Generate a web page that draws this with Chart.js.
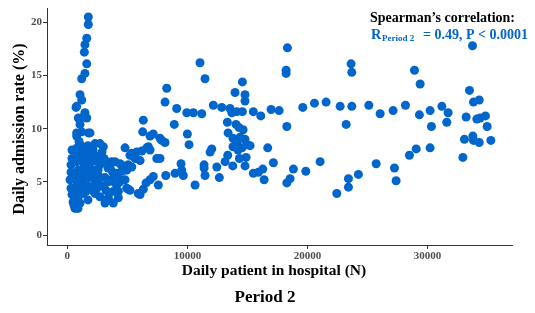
<!DOCTYPE html>
<html>
<head>
<meta charset="utf-8">
<script src="https://cdn.jsdelivr.net/npm/chart.js@4"></script>
<style>
  html, body { margin: 0; padding: 0; background: #fff; }
  canvas { display: block; }
</style>
</head>
<body>
<canvas id="myChart" width="535" height="313"></canvas>
<script>
// daily patients in hospital (N) for each day of period 2
var patientsN = [
    1750, 1750, 1620, 1470, 1420, 1620, 1470, 1200, 1060, 1200, 780, 730, 1470, 920, 1330, 1620, 1060, 1200, 780, 1750, 1890, 780, 980, 1060,
    2310, 2720, 3000, 390, 390, 310, 310, 230, 310, 390, 480, 640, 560, 810, 890, 810, 890, 730, 810, 730, 890,
    1230, 1310, 1230, 1390, 1230, 1310, 1140, 1310, 1060, 1720, 1640, 1810, 1720, 1640, 1810, 1720, 1560, 1720,
    2140, 2220, 2060, 2220, 2140, 2310, 2060, 2470, 2560, 2640, 2470, 2890, 3060, 2720, 3140, 2970, 3390, 3220, 890,
    2580, 3280, 3560, 3970, 4390, 4810, 3780, 4120, 4530, 4950, 2580, 3420, 3970, 4390, 4810, 5220, 5500,
    2310, 2720, 3280, 3830, 4250, 5080, 3420, 4250, 3830, 3140, 5910, 6060, 6330, 6560, 6890, 7160, 7450, 7580,
    8200, 8970, 9470, 9530, 9660, 10640, 6330, 6280, 6890, 7160, 7720, 7860, 8140, 6750, 6890, 4810, 5370, 5780,
    6200, 6610, 5640, 6060, 5080, 5370, 3700, 4670, 4120, 4530, 4950, 5220, 4120, 3700, 7720, 8140, 8280, 9110,
    9950, 10500, 11200, 8910, 10000, 10140,
    11050, 11470, 12160, 12860, 13550, 13700, 14110, 14580, 15490, 16110, 16970, 17640, 14580, 13970, 14800, 14800,
    18330, 18220, 18220, 13330, 13390, 13800, 14300, 14640, 14390, 14800, 14140, 13800, 14970, 15220, 14220, 14550,
    14050, 16690, 18280, 12030, 11890, 13360, 13140, 14330, 14890, 14800, 13780, 17160, 11390, 11390, 12450, 11470,
    12660, 15490, 15910, 16280, 16390, 18830, 18550, 18280, 19860,
    21050, 22440, 23410, 23410, 24240, 25720, 27240, 27380, 28490, 29050, 30210, 32940, 33070, 33770, 33820, 34300,
    35270, 33740, 23630, 23690, 28910, 29380, 33490, 33820, 34300, 19610, 20580, 21550, 22720, 23690, 25110, 26050,
    27130, 28160, 29320, 30210, 31190, 31710, 31600, 30320, 33210, 34100, 34380, 34820, 34960, 23220
];
// daily admission rate (%) for the same days
var admissionRate = [
    20.5, 19.8, 18.5, 17.9, 17.2, 16.1, 15.2, 14.7, 13.2, 12.7, 12.1, 12.0, 11.5, 11.0, 11.1, 11.0, 10.4, 9.7, 9.6, 9.6, 9.6, 9.3, 8.8, 8.5,
    8.6, 8.6, 8.3, 8.0, 7.2, 6.6, 5.9, 5.2, 4.4, 3.8, 3.1, 2.5, 2.8, 8.2, 7.5, 6.9, 6.1, 5.5, 4.8, 4.1, 3.5,
    8.3, 7.7, 7.1, 6.5, 5.8, 5.2, 4.5, 3.9, 3.0, 8.4, 7.8, 7.2, 6.6, 5.9, 5.4, 4.6, 4.1, 3.3,
    8.0, 7.4, 6.9, 6.1, 5.5, 4.9, 4.2, 6.9, 6.1, 5.5, 4.4, 7.8, 7.2, 6.6, 5.4, 4.6, 6.3, 4.2, 2.5,
    7.4, 6.9, 6.4, 6.9, 6.7, 6.5, 5.9, 5.8, 6.0, 6.1, 4.9, 5.0, 4.9, 5.0, 5.2, 7.5, 7.4,
    3.9, 3.6, 3.3, 4.1, 4.1, 4.3, 3.5, 3.5, 3.0, 3.0, 3.9, 3.8, 4.3, 4.9, 5.2, 5.5, 7.2, 4.7,
    5.6, 5.8, 6.7, 6.1, 5.6, 4.7, 10.8, 9.7, 9.3, 9.5, 9.1, 8.9, 8.7, 8.3, 8.0, 8.2, 7.7, 7.8,
    7.9, 8.2, 7.2, 7.0, 6.6, 6.4, 6.9, 6.1, 5.6, 5.2, 4.4, 4.2, 4.7, 5.2, 7.2, 12.5, 13.8, 11.9,
    11.5, 11.5, 11.4, 10.4, 9.5, 8.5,
    16.2, 14.7, 12.2, 12.0, 11.9, 11.5, 11.6, 11.6, 11.6, 11.2, 11.8, 11.7, 14.4, 13.4, 13.2, 12.6,
    17.6, 15.5, 15.2, 10.6, 9.6, 9.1, 10.1, 9.9, 9.2, 9.0, 8.7, 8.3, 8.5, 8.4, 8.0, 8.2,
    10.4, 8.2, 10.2, 8.1, 7.8, 7.5, 6.9, 7.2, 7.3, 6.5, 6.5, 6.8, 6.6, 6.3, 6.4, 5.6,
    5.4, 5.8, 5.9, 6.2, 5.2, 6.2, 5.3, 4.9, 6.0,
    6.9, 3.9, 5.3, 4.5, 5.7, 6.7, 6.3, 5.1, 7.5, 8.1, 8.2, 7.3, 9.0, 9.3, 8.9, 8.7,
    8.9, 17.8, 16.1, 15.3, 15.5, 14.2, 13.6, 12.5, 12.7, 12.0, 12.4, 12.5, 12.1, 12.1, 12.2, 11.4,
    11.7, 12.2, 11.3, 11.7, 12.1, 11.5, 10.6, 10.2, 11.1, 10.9, 11.0, 11.2, 10.2, 10.4
];
var xTicks = [0, 10000, 20000, 30000];
var yTicks = [0, 5, 10, 15, 20];

var blue = 'rgb(0, 102, 204)';
var serif = "'Liberation Serif', 'Times New Roman', serif";

var points = [];
for (var i = 0; i < patientsN.length; i++) {
    points.push({x: patientsN[i], y: admissionRate[i]});
}

// titles and the correlation note
var textPlugin = {
    id: 'texts',
    afterDraw: function(chart) {
        var ctx = chart.ctx;
        ctx.save();
        ctx.fillStyle = '#000';
        ctx.textBaseline = 'middle';

        ctx.font = 'bold 15.5px ' + serif;
        ctx.textAlign = 'center';
        ctx.fillText('Daily patient in hospital (N)', 274, 271);

        ctx.font = 'bold 17px ' + serif;
        ctx.fillText('Period 2', 265, 298);

        ctx.save();
        ctx.translate(20, 129);
        ctx.rotate(-Math.PI / 2);
        ctx.font = 'bold 16px ' + serif;
        ctx.fillText('Daily admission rate (%)', 0, 0);
        ctx.restore();

        ctx.textAlign = 'left';
        ctx.font = 'bold 14px ' + serif;
        ctx.fillText('Spearman\u2019s correlation:', 370, 18);

        ctx.fillStyle = blue;
        ctx.font = 'bold 14.5px ' + serif;
        ctx.fillText('R', 371, 35);
        ctx.font = 'bold 9px ' + serif;
        ctx.fillText('Period 2', 382, 39);
        ctx.font = 'bold 14px ' + serif;
        ctx.fillText('= 0.49, P < 0.0001', 423, 35);
        ctx.restore();
    }
};

var ctx = document.getElementById('myChart');
var myChart = new Chart(ctx, {
    type: 'scatter',
    data: {
        datasets: [{
            label: 'Period 2',
            data: points,
            backgroundColor: blue,
            borderWidth: 0,
            pointRadius: 4.5,
            pointHoverRadius: 4.5
        }]
    },
    options: {
        responsive: false,
        animation: false,
        devicePixelRatio: 1,
        layout: { padding: { left: 0, right: 23, top: 8, bottom: 0 } },
        plugins: {
            legend: { display: false },
            tooltip: { enabled: false }
        },
        scales: {
            x: {
                type: 'linear',
                min: -1690,
                max: 37030,
                afterBuildTicks: function(s) { s.ticks = xTicks.map(function(v) { return {value: v}; }); },
                afterFit: function(s) { s.height = 68; },
                grid: { drawOnChartArea: false, tickLength: 4, color: '#333' },
                border: { color: '#333', width: 1 },
                ticks: {
                    padding: 1,
                    maxRotation: 0,
                    color: '#4d4d4d',
                    font: { family: serif, size: 11, weight: 'bold' },
                    callback: function(v) { return String(v); }
                }
            },
            y: {
                type: 'linear',
                min: -0.94,
                max: 21.35,
                afterBuildTicks: function(s) { s.ticks = yTicks.map(function(v) { return {value: v}; }); },
                afterFit: function(s) { s.width = 47; },
                grid: { drawOnChartArea: false, tickLength: 4, color: '#333' },
                border: { color: '#333', width: 1 },
                ticks: {
                    padding: 1,
                    color: '#4d4d4d',
                    font: { family: serif, size: 11, weight: 'bold' },
                    callback: function(v) { return String(v); }
                }
            }
        }
    },
    plugins: [textPlugin]
});
</script>
</body>
</html>
